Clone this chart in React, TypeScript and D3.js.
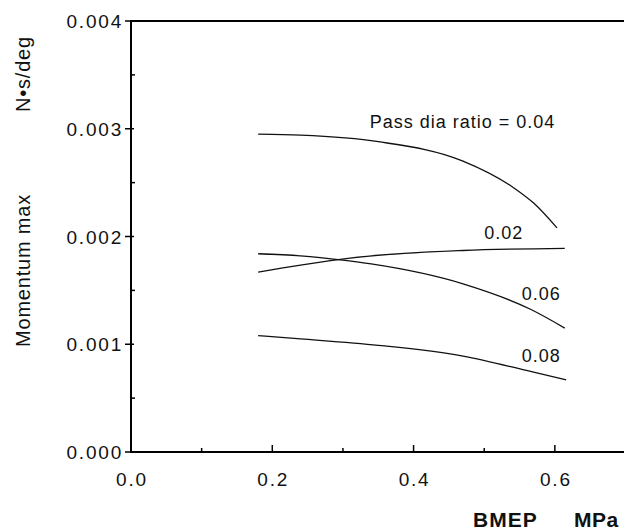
import React from "react";
import * as d3 from "d3";

const width = 624;
const height = 532;
const font = "'Liberation Sans', Arial, sans-serif";

// x ticks (BMEP, MPa) and y ticks (momentum max, N·s/deg)
const xTicks = [0.0, 0.2, 0.4, 0.6];
const xMinor = [0.1, 0.3, 0.5];
const yTicks = [0.0, 0.001, 0.002, 0.003, 0.004];
const yMinor = [0.0005, 0.0015, 0.0025, 0.0035];

// pass dia ratio = 0.04
const bmep04 = [0.18, 0.24, 0.35, 0.47, 0.54, 0.57, 0.603];
const mom04 = [0.00295, 0.00294, 0.00288, 0.0027, 0.00246, 0.00231, 0.00208];
// 0.02
const bmep02 = [0.18, 0.24, 0.31, 0.47, 0.614];
const mom02 = [0.00167, 0.001735, 0.0018, 0.00187, 0.00189];
// 0.06
const bmep06 = [0.18, 0.24, 0.3, 0.34, 0.47, 0.567, 0.614];
const mom06 = [0.00184, 0.00182, 0.00178, 0.001745, 0.00156, 0.00132, 0.00115];
// 0.08
const bmep08 = [0.18, 0.24, 0.35, 0.47, 0.567, 0.616];
const mom08 = [0.00108, 0.00105, 0.00099, 0.00089, 0.000745, 0.00067];

// curve labels, anchored in data units
const labels = [
  { text: "Pass dia ratio = 0.04", x: 0.338, y: 0.003004 },
  { text: "0.02", x: 0.5, y: 0.001977 },
  { text: "0.06", x: 0.553, y: 0.001411 },
  { text: "0.08", x: 0.553, y: 0.000838 }
];

const series = [
  { x: bmep04, y: mom04 },
  { x: bmep02, y: mom02 },
  { x: bmep06, y: mom06 },
  { x: bmep08, y: mom08 }
];

const xScale = d3.scaleLinear().domain([0, 0.7]).range([131, 625.5]);
const yScale = d3.scaleLinear().domain([0, 0.004]).range([452, 21]);

const lineGen = d3
  .line<[number, number]>()
  .x(d => xScale(d[0]))
  .y(d => yScale(d[1]))
  .curve(d3.curveMonotoneX);

export default function App() {
  const x0 = xScale(0);
  const y0 = yScale(0);
  const yTop = yScale(0.004);

  return (
    <svg
      width={width}
      height={height}
      style={{ position: "absolute", left: 0, top: 0, background: "#fff" }}
      fontFamily={font}
    >
      {/* frame */}
      <line x1={x0} x2={width} y1={yTop} y2={yTop} stroke="#000" strokeWidth={2} />
      <line x1={x0} x2={x0} y1={yTop - 1} y2={y0 + 1} stroke="#000" strokeWidth={2} />
      <line x1={x0} x2={width} y1={y0} y2={y0} stroke="#000" strokeWidth={2.2} />

      {/* y ticks */}
      {yTicks.map(t => (
        <g key={"y" + t}>
          <line x1={x0 - 6} x2={x0 + 3} y1={yScale(t)} y2={yScale(t)} stroke="#000" strokeWidth={1.5} />
          <text
            x={x0 - 8}
            y={yScale(t) + 7}
            textAnchor="end"
            fontSize={19}
            letterSpacing={1.8}
            fill="#111"
          >
            {d3.format(".3f")(t)}
          </text>
        </g>
      ))}
      {yMinor.map(t => (
        <line key={"ym" + t} x1={x0} x2={x0 + 4} y1={yScale(t)} y2={yScale(t)} stroke="#000" strokeWidth={1.5} />
      ))}

      {/* x ticks */}
      {xTicks.map(t => (
        <g key={"x" + t}>
          <line x1={xScale(t)} x2={xScale(t)} y1={y0} y2={y0 - 7} stroke="#000" strokeWidth={1.5} />
          <text
            x={xScale(t) + 1}
            y={486}
            textAnchor="middle"
            fontSize={19}
            letterSpacing={1.8}
            fill="#111"
          >
            {d3.format(".1f")(t)}
          </text>
        </g>
      ))}
      {xMinor.map(t => (
        <line key={"xm" + t} x1={xScale(t)} x2={xScale(t)} y1={y0} y2={y0 - 4} stroke="#000" strokeWidth={1.5} />
      ))}

      {/* curves */}
      {series.map((s, i) => (
        <path
          key={i}
          d={lineGen(s.x.map((v, j) => [v, s.y[j]] as [number, number])) || ""}
          fill="none"
          stroke="#111"
          strokeWidth={1.3}
        />
      ))}

      {/* curve labels */}
      {labels.map(l => (
        <text
          key={l.text}
          x={xScale(l.x)}
          y={yScale(l.y)}
          fontSize={18}
          letterSpacing={1}
          fill="#111"
        >
          {l.text}
        </text>
      ))}

      {/* axis titles */}
      <text transform="translate(30,347) rotate(-90)" fontSize={20} letterSpacing={0.8} fill="#111">
        Momentum max
      </text>
      <text transform="translate(30,112) rotate(-90)" fontSize={20} letterSpacing={0.8} fill="#111">
        N•s/deg
      </text>
      <text x={473} y={527} fontSize={21} fontWeight="bold" letterSpacing={1} fill="#111">
        BMEP
      </text>
      <text x={574} y={527} fontSize={21} fontWeight="bold" letterSpacing={0.5} fill="#111">
        MPa
      </text>
    </svg>
  );
}
